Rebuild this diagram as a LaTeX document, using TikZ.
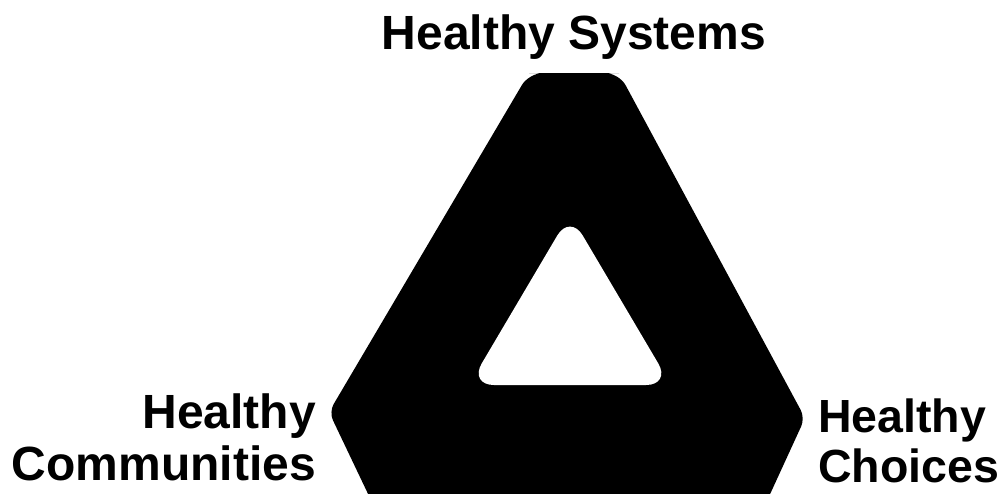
\documentclass[tikz,border=0pt]{standalone}
\usepackage{fontspec}
\setmainfont{Liberation Sans}
\begin{document}
\begin{tikzpicture}[x=1pt,y=-1pt,
  lbl/.style={inner sep=0pt, font=\fontsize{48}{50}\selectfont\bfseries},
  lblr/.style={inner sep=0pt, font=\fontsize{46.5}{50}\selectfont\bfseries}]
\useasboundingbox (0,0) rectangle (1003,493);
\fill[white] (0,0) rectangle (1003,493);
\begin{scope}
  \clip (0,0) rectangle (1003,493);
  \fill[black] (529,73) [rounded corners=14pt] -- (619,73) [rounded corners=9pt] -- (805,418)
     [rounded corners=0pt] -- (749,540) -- (390,540) [rounded corners=9pt] -- (329,412)
     [rounded corners=14pt] -- (529,73) [rounded corners=14pt] -- (619,73);
\end{scope}
\fill[white, rounded corners=25pt] (570,214) -- (671,385) -- (469,385) -- cycle;
\node[lbl, anchor=base] (sys) at (574,49) {Healthy Systems};
\node[lbl, anchor=base east] (com1) at (316,428) {Healthy};
\node[lbl, anchor=base east] (com2) at (316,480) {Communities};
\node[lblr, anchor=base west] (cho1) at (818,432) {Healthy};
\node[lblr, anchor=base west] (cho2) at (818,482) {Choices};
\end{tikzpicture}
\end{document}
